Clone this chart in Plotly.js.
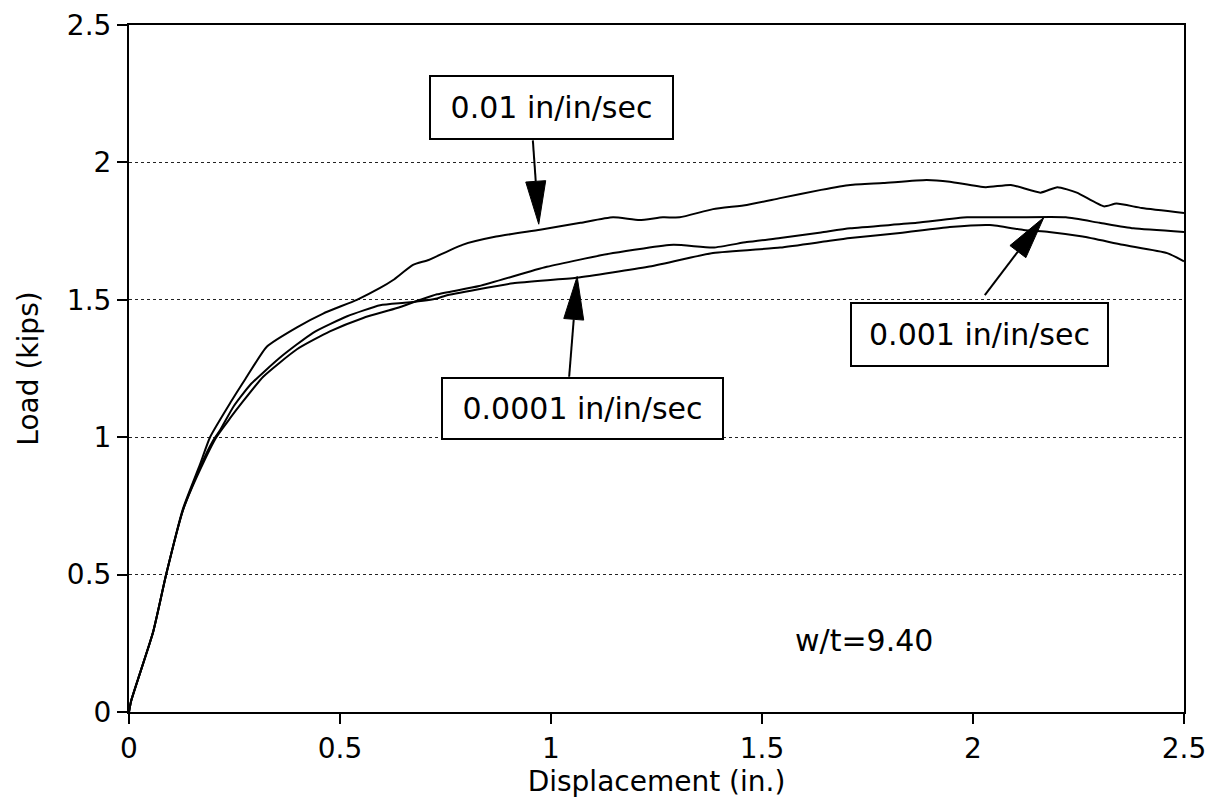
<!DOCTYPE html>
<html>
<head>
<meta charset="utf-8">
<script src="https://cdn.plot.ly/plotly-3.0.1.min.js"></script>
<style>html,body{margin:0;padding:0;background:#fff;}#chart{width:1214px;height:804px;}</style>
</head>
<body>
<div id="chart"></div>
<script>
// ---- data ----
const x_r01 = [0, 0.005, 0.057, 0.088, 0.128, 0.168, 0.192, 0.24, 0.275, 0.327, 0.398, 0.46, 0.54, 0.595, 0.626, 0.673, 0.71, 0.79, 0.87, 0.974, 1.07, 1.147, 1.21, 1.265, 1.305, 1.384, 1.464, 1.543, 1.64, 1.709, 1.787, 1.89, 1.945, 2.03, 2.09, 2.16, 2.2, 2.246, 2.31, 2.34, 2.40, 2.5];
const y_r01 = [0, 0.04, 0.29, 0.5, 0.74, 0.9, 1.0, 1.125, 1.21, 1.33, 1.40, 1.45, 1.50, 1.543, 1.572, 1.627, 1.645, 1.70, 1.73, 1.755, 1.78, 1.80, 1.79, 1.80, 1.80, 1.83, 1.845, 1.87, 1.90, 1.918, 1.925, 1.936, 1.93, 1.91, 1.918, 1.89, 1.91, 1.89, 1.84, 1.85, 1.834, 1.816];

const x_r001 = [0, 0.005, 0.057, 0.088, 0.128, 0.168, 0.207, 0.24, 0.27, 0.318, 0.398, 0.476, 0.555, 0.635, 0.69, 0.73, 0.83, 0.99, 1.147, 1.29, 1.384, 1.464, 1.543, 1.64, 1.709, 1.867, 1.986, 2.10, 2.22, 2.30, 2.38, 2.5];
const y_r001 = [0, 0.04, 0.29, 0.5, 0.735, 0.88, 1.0, 1.07, 1.13, 1.22, 1.32, 1.385, 1.434, 1.47, 1.50, 1.52, 1.55, 1.62, 1.67, 1.70, 1.69, 1.71, 1.725, 1.745, 1.76, 1.78, 1.80, 1.80, 1.80, 1.78, 1.76, 1.747];

const x_r0001 = [0, 0.005, 0.057, 0.088, 0.128, 0.168, 0.2, 0.216, 0.247, 0.287, 0.358, 0.436, 0.517, 0.595, 0.66, 0.73, 0.75, 0.91, 1.06, 1.23, 1.384, 1.543, 1.64, 1.709, 1.827, 1.945, 2.04, 2.12, 2.18, 2.26, 2.355, 2.46, 2.5];
const y_r0001 = [0, 0.04, 0.29, 0.5, 0.735, 0.89, 0.99, 1.026, 1.11, 1.19, 1.29, 1.38, 1.44, 1.48, 1.49, 1.505, 1.515, 1.56, 1.58, 1.62, 1.67, 1.69, 1.71, 1.725, 1.743, 1.765, 1.772, 1.754, 1.747, 1.73, 1.70, 1.67, 1.64];

const tickVals = [0, 0.5, 1, 1.5, 2, 2.5];
const tickText = ['0', '0.5', '1', '1.5', '2', '2.5'];

const labelTexts = ['0.01 in/in/sec', '0.0001 in/in/sec', '0.001 in/in/sec'];
const noteText = 'w/t=9.40';
const xTitle = 'Displacement (in.)';
const yTitle = 'Load (kips)';

// ---- layout constants ----
const W = 1214, H = 804;
const M = {l: 129, r: 30, t: 25, b: 92};
const FONT = 'DejaVu Sans, Arial, sans-serif';
const pxX = (W - M.l - M.r) / 2.5;
const pxY = (H - M.t - M.b) / 2.5;

const lineStyle = {color: '#000', width: 2, shape: 'spline', smoothing: 0.5};
const traces = [
  {x: x_r01, y: y_r01, name: labelTexts[0]},
  {x: x_r001, y: y_r001, name: labelTexts[2]},
  {x: x_r0001, y: y_r0001, name: labelTexts[1]}
].map(t => Object.assign(t, {type: 'scatter', mode: 'lines', line: lineStyle, hoverinfo: 'skip'}));

// label boxes: [text, centre x, centre y, width, height]
const boxes = [
  [labelTexts[0], 1.002, 2.20, 241, 61],
  [labelTexts[1], 1.074, 1.106, 279, 59],
  [labelTexts[2], 2.016, 1.372, 255, 61]
];
// arrows: [tail x, tail y, tip x, tip y]
const arrows = [
  [0.957, 2.08, 0.971, 1.775],
  [1.043, 1.22, 1.062, 1.585],
  [2.028, 1.517, 2.168, 1.80]
];

const annotations = boxes.map(b => ({
  text: b[0], x: b[1], y: b[2], xref: 'x', yref: 'y', showarrow: false,
  width: b[3], height: b[4], borderpad: 0, borderwidth: 2, bordercolor: '#000',
  bgcolor: '#fff', font: {family: FONT, size: 30, color: '#000'}, align: 'center', valign: 'middle'
}));
annotations.push({
  text: noteText, x: 1.742, y: 0.262, xref: 'x', yref: 'y', showarrow: false,
  font: {family: FONT, size: 30, color: '#000'}
});

const shapes = [];
const HEAD_L = 43, HEAD_W = 10;
arrows.forEach(a => {
  const [tx, ty, hx, hy] = a;
  let dx = (hx - tx) * pxX, dy = -(hy - ty) * pxY;
  const len = Math.hypot(dx, dy); dx /= len; dy /= len;
  const nx = -dy, ny = dx;
  const bx = -dx * HEAD_L, by = -dy * HEAD_L;
  const p1 = [bx + nx * HEAD_W, by + ny * HEAD_W];
  const p2 = [bx - nx * HEAD_W, by - ny * HEAD_W];
  const baseX = hx + bx / pxX, baseY = hy - by / pxY;
  shapes.push({type: 'line', xref: 'x', yref: 'y', x0: tx, y0: ty, x1: baseX, y1: baseY,
    line: {color: '#000', width: 2}});
  shapes.push({type: 'path', xref: 'x', yref: 'y', xsizemode: 'pixel', ysizemode: 'pixel',
    xanchor: hx, yanchor: hy,
    path: `M0,0 L${p1[0].toFixed(2)},${(-p1[1]).toFixed(2)} L${p2[0].toFixed(2)},${(-p2[1]).toFixed(2)} Z`,
    fillcolor: '#000', line: {color: '#000', width: 1}});
});

const axisCommon = {
  range: [0, 2.5], tickmode: 'array', tickvals: tickVals, ticktext: tickText,
  ticks: 'outside', ticklen: 10, tickwidth: 2, tickcolor: '#000',
  showline: true, linewidth: 2, linecolor: '#000', mirror: true,
  zeroline: false, fixedrange: true,
  tickfont: {family: FONT, size: 28, color: '#000'}
};

const layout = {
  width: W, height: H, margin: M,
  paper_bgcolor: '#fff', plot_bgcolor: '#fff', showlegend: false,
  xaxis: Object.assign({}, axisCommon, {
    showgrid: false,
    title: {text: xTitle, font: {family: FONT, size: 28, color: '#000'}, standoff: 3}
  }),
  yaxis: Object.assign({}, axisCommon, {
    showgrid: true, gridcolor: '#222', gridwidth: 1, griddash: 'dot',
    title: {text: yTitle, font: {family: FONT, size: 28, color: '#000'}, standoff: 20}
  }),
  annotations: annotations,
  shapes: shapes
};

Plotly.newPlot('chart', traces, layout, {displayModeBar: false, staticPlot: true});
</script>
</body>
</html>
